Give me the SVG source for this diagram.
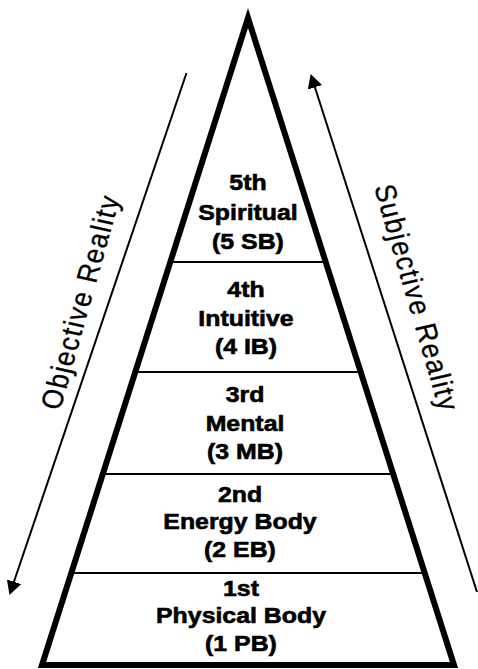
<svg xmlns="http://www.w3.org/2000/svg" width="478" height="669" viewBox="0 0 478 669">
<style>
.tier{font-family:"Liberation Sans",Arial,sans-serif;font-weight:bold;font-size:22px;fill:#000;stroke:#000;stroke-width:0.6;text-anchor:middle}
.side{font-family:"Liberation Sans",Arial,sans-serif;font-size:26px;letter-spacing:1.5px;fill:#000;stroke:#000;stroke-width:0.3}
.div{stroke:#000;stroke-width:2}
.arr{stroke:#000;stroke-width:2;fill:none}
</style>
<defs>
<marker id="head" markerUnits="userSpaceOnUse" markerWidth="14" markerHeight="15" refX="8" refY="7.5" orient="auto">
<path d="M0,0 L14,7.5 L0,15 z" fill="#000"/>
</marker>
</defs>
<rect width="478" height="669" fill="#fff"/>
<g id="pyramid">
<polygon points="248,18 42,665 454,665" fill="none" stroke="#000" stroke-width="6" stroke-miterlimit="6"/>
<line class="div" x1="170" y1="262" x2="326" y2="262"/>
<line class="div" x1="135" y1="372" x2="361" y2="372"/>
<line class="div" x1="103" y1="474" x2="393" y2="474"/>
<line class="div" x1="71" y1="573" x2="425" y2="573"/>
</g>
<g id="tier5" transform="translate(248 0) scale(1.13 1)">
<text class="tier" x="0" y="190">5th</text>
<text class="tier" x="0" y="220">Spiritual</text>
<text class="tier" x="0" y="249">(5 SB)</text>
</g>
<g id="tier4" transform="translate(246 0) scale(1.13 1)">
<text class="tier" x="0" y="297">4th</text>
<text class="tier" x="0" y="326">Intuitive</text>
<text class="tier" x="0" y="354">(4 IB)</text>
</g>
<g id="tier3" transform="translate(245 0) scale(1.13 1)">
<text class="tier" x="0" y="402">3rd</text>
<text class="tier" x="0" y="431">Mental</text>
<text class="tier" x="0" y="459">(3 MB)</text>
</g>
<g id="tier2" transform="translate(240 0) scale(1.13 1)">
<text class="tier" x="0" y="502">2nd</text>
<text class="tier" x="0" y="529">Energy Body</text>
<text class="tier" x="0" y="557">(2 EB)</text>
</g>
<g id="tier1" transform="translate(241 0) scale(1.13 1)">
<text class="tier" x="0" y="596">1st</text>
<text class="tier" x="0" y="623">Physical Body</text>
<text class="tier" x="0" y="651">(1 PB)</text>
</g>
<g id="connectors">
<line class="arr" x1="186.5" y1="73" x2="11.4" y2="589.3" marker-end="url(#head)"/>
<line class="arr" x1="477" y1="592" x2="312.5" y2="79.7" marker-end="url(#head)"/>
</g>
<g id="label-objective">
<text class="side" transform="translate(60 411) scale(1.13 1) rotate(-76)">Objective Reality</text>
</g>
<g id="label-subjective">
<text class="side" transform="translate(374 187) scale(1.13 1) rotate(75.5)">Subjective Reality</text>
</g>
</svg>
